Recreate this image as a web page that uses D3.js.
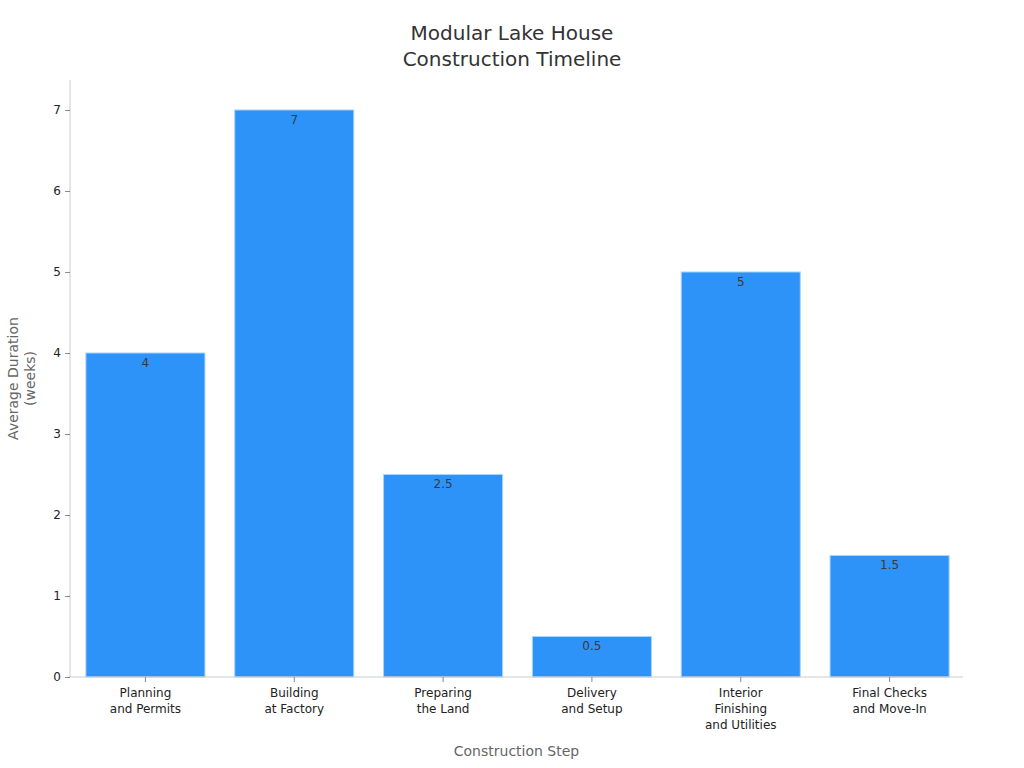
<!DOCTYPE html>
<html><head><meta charset="utf-8">
<script src="https://cdn.jsdelivr.net/npm/d3@7"></script>
<style>body{margin:0;background:#fff}svg{display:block;font-family:"DejaVu Sans",sans-serif}</style>
</head><body>
<svg id="c" width="1024" height="768"></svg>
<script>
const categories = [["Planning","and Permits"],["Building","at Factory"],["Preparing","the Land"],["Delivery","and Setup"],["Interior","Finishing","and Utilities"],["Final Checks","and Move-In"]];
const values = [4, 7, 2.5, 0.5, 5, 1.5];
const yTicks = [0,1,2,3,4,5,6,7];
const titleLines = ["Modular Lake House","Construction Timeline"];
const yTitleLines = ["Average Duration","(weeks)"];
const xTitle = "Construction Step";

const svg = d3.select("#c");
const m = {l:70, r:61, t:80, b:91};
const W = 1024, H = 768;
const keys = categories.map(c => c.join(" "));
const x = d3.scaleBand().domain(keys).range([m.l + 1, W - m.r + 1]).paddingInner(0.2).paddingOuter(0.1);
const y = d3.scaleLinear().domain([0, 7.37]).range([H - m.b, m.t]);

// bars
svg.append("g").selectAll("rect").data(values).join("rect")
  .attr("x", (d,i) => x(keys[i]))
  .attr("y", d => y(d))
  .attr("width", x.bandwidth())
  .attr("height", d => y(0) - y(d))
  .attr("fill", "#2e93f8")
  .attr("stroke", "#a9d4fb")
  .attr("stroke-width", 1);

// value labels
svg.append("g").selectAll("text").data(values).join("text")
  .attr("x", (d,i) => x(keys[i]) + x.bandwidth()/2)
  .attr("y", d => y(d) + 14)
  .attr("text-anchor", "middle")
  .attr("font-size", 12)
  .attr("fill", "#3a3a3a")
  .text(d => d);

// y axis
const ya = svg.append("g").attr("transform", `translate(${m.l},0)`)
  .call(d3.axisLeft(y).tickValues(yTicks).tickSize(5).tickPadding(4).tickFormat(d3.format("d")));
ya.select(".domain").attr("stroke", "#cccccc").attr("d", `M0,${m.t}V${H - m.b}`);
ya.selectAll(".tick line").attr("stroke", "#888");
ya.selectAll(".tick text").attr("font-size", 12).attr("fill", "#222").attr("font-family", "DejaVu Sans");

// x axis
const xa = svg.append("g").attr("transform", `translate(0,${H - m.b})`)
  .call(d3.axisBottom(x).tickSize(5).tickSizeOuter(0).tickFormat(""));
xa.select(".domain").attr("stroke", "#cccccc").attr("d", `M${m.l},0H${W - m.r}`);
xa.selectAll(".tick line").attr("stroke", "#888");
xa.selectAll(".tick").each(function(d, i) {
  const t = d3.select(this).append("text")
    .attr("text-anchor", "middle").attr("font-size", 12).attr("fill", "#222")
    .attr("font-family", "DejaVu Sans");
  categories[i].forEach((line, j) => {
    t.append("tspan").attr("x", 0).attr("y", 20 + j*16).text(line);
  });
});

// title
const tt = svg.append("text").attr("text-anchor", "middle").attr("font-size", 20).attr("fill", "#333");
titleLines.forEach((l, j) => tt.append("tspan").attr("x", 512).attr("y", 40 + j*26).text(l));

// y title
const yt = svg.append("text").attr("text-anchor", "middle").attr("font-size", 14).attr("fill", "#666")
  .attr("transform", `translate(18,${(m.t + H - m.b)/2}) rotate(-90)`);
yTitleLines.forEach((l, j) => yt.append("tspan").attr("x", 0).attr("y", j*17).text(l));

// x title
svg.append("text").attr("x", (m.l + W - m.r)/2).attr("y", 756).attr("text-anchor", "middle")
  .attr("font-size", 14).attr("fill", "#666").text(xTitle);
</script>
</body></html>
